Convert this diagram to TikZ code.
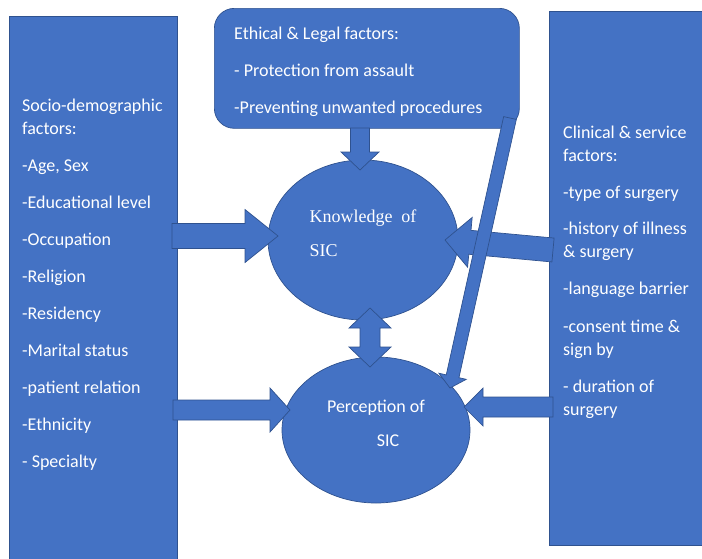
\documentclass[tikz,border=0pt]{standalone}
\usepackage{fontspec}
\setmainfont{Carlito}
\newfontfamily\serifface{Liberation Serif}
\usetikzlibrary{calc,shapes.geometric}
\definecolor{officeblue}{HTML}{4472C4}
\definecolor{edgeblue}{HTML}{2F528F}
\tikzset{
  bluefill/.style={fill=officeblue, draw=edgeblue, line width=0.7pt},
  factorbox/.style={bluefill, rectangle, anchor=north west, inner sep=0pt},
  factortext/.style={text=white, align=left, anchor=west, inner sep=0pt, font=\fontsize{18}{23}\selectfont},
  sicnode/.style={bluefill, ellipse, inner sep=0pt},
  sictext/.style={text=white, inner sep=0pt}
}
% block arrow: from, to, shaft half width, head half width, head length
\newcommand{\blockarrow}[5]{%
  \path ($(#2)!#5!(#1)$) coordinate (hb);
  \filldraw[bluefill] ($(#1)!#3!90:(#2)$) -- ($(hb)!#3!90:(#2)$) -- ($(hb)!#4!90:(#2)$) -- (#2)
    -- ($(hb)!#4!-90:(#2)$) -- ($(hb)!#3!-90:(#2)$) -- ($(#1)!#3!-90:(#2)$) -- cycle;
}
% same with a head at both ends
\newcommand{\twinarrow}[5]{%
  \path ($(#1)!#5!(#2)$) coordinate (ha) ($(#2)!#5!(#1)$) coordinate (hb);
  \filldraw[bluefill] (#1) -- ($(ha)!#4!90:(#2)$) -- ($(ha)!#3!90:(#2)$) -- ($(hb)!#3!90:(#2)$)
    -- ($(hb)!#4!90:(#2)$) -- (#2) -- ($(hb)!#4!-90:(#2)$) -- ($(hb)!#3!-90:(#2)$)
    -- ($(ha)!#3!-90:(#2)$) -- ($(ha)!#4!-90:(#2)$) -- cycle;
}
\begin{document}
\begin{tikzpicture}[x=1pt, y=-1pt]
	\useasboundingbox (0,0) rectangle (702,558);
	% factor boxes
	\node[factorbox, minimum width=168pt, minimum height=546pt] (sociobox) at (9,16) {};
	\node[factorbox, rounded corners=20pt, minimum width=305pt, minimum height=120pt] (ethicbox) at (214,8) {};
	\node[factorbox, minimum width=160pt, minimum height=534pt] (clinicbox) at (549,11) {};
	\node[factortext] (sociotext) at (22,285) {Socio-demographic\\factors:\\[14pt]-Age, Sex\\[14pt]-Educational level\\[14pt]-Occupation\\[14pt]-Religion\\[14pt]-Residency\\[14pt]-Marital status\\[14pt]-patient relation\\[14pt]-Ethnicity\\[14pt]- Specialty};
	\node[factortext] (ethictext) at (234,72) {Ethical \& Legal factors:\\[14pt]- Protection from assault\\[14pt]-Preventing unwanted procedures};
	\node[factortext] (clinictext) at (563,272.5) {Clinical \& service\\factors:\\[14pt]-type of surgery\\[13pt]-history of illness\\\& surgery\\[14pt]-language barrier\\[15pt]-consent time \&\\sign by\\[14pt]- duration of\\surgery};
	% outcomes
	\node[sicnode, minimum width=190pt, minimum height=160pt] (know) at (363,240) {};
	\node[sicnode, minimum width=188pt, minimum height=146pt] (perc) at (376,430) {};
	\node[sictext, align=left, font=\serifface\fontsize{18}{34}\selectfont] (knowtext) at ($(know)+(0,-7)$) {Knowledge\ \ of\\SIC};
	\node[sictext, align=center, font=\fontsize{18}{34}\selectfont] (perctext) at ($(perc)+(0,-7)$) {Perception of\\\hspace*{24pt}SIC};
	% arrow ends
	\coordinate (s1) at (172,236);
	\coordinate (k1) at (278,236);
	\coordinate (s2) at (173,410);
	\coordinate (p1) at (290,410);
	\coordinate (e1) at (360,128);
	\coordinate (k2) at (360,170);
	\coordinate (c1) at (553,250);
	\coordinate (k3) at (445,240);
	\coordinate (c2) at (553,407);
	\coordinate (p2) at (464,407);
	\coordinate (e2) at (510,118);
	\coordinate (p3) at (450,388);
	\coordinate (k4) at (370,308);
	\coordinate (p4) at (370,367);
	\blockarrow{s1}{k1}{12.5pt}{26.5pt}{33pt}
	\blockarrow{s2}{p1}{10pt}{22pt}{20pt}
	\blockarrow{e1}{k2}{9.5pt}{19pt}{18pt}
	\blockarrow{c1}{k3}{12pt}{25pt}{25pt}
	\blockarrow{c2}{p2}{10pt}{19pt}{19pt}
	\twinarrow{k4}{p4}{10pt}{21pt}{20pt}
	\blockarrow{e2}{p3}{6.5pt}{14pt}{12pt}
\end{tikzpicture}
\end{document}
